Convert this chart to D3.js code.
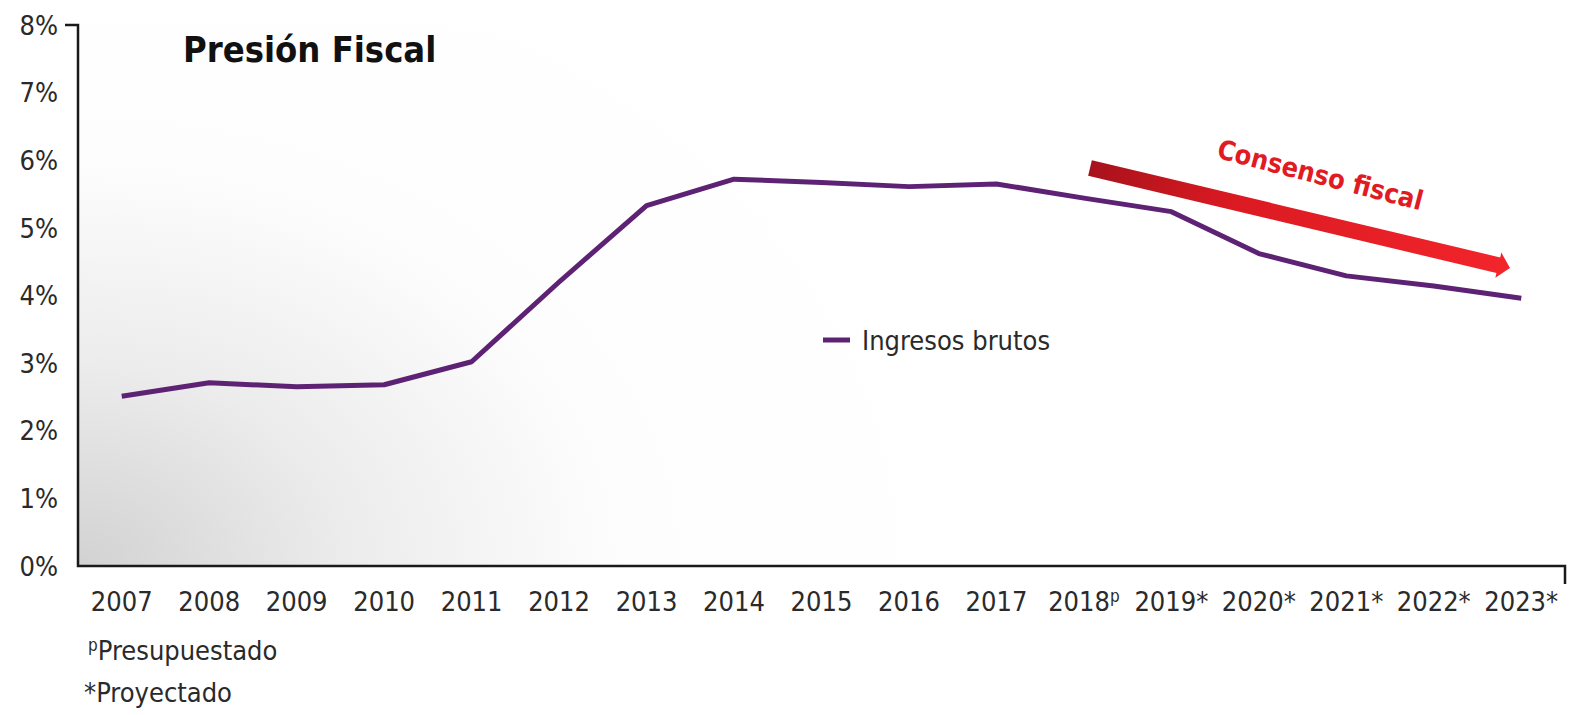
<!DOCTYPE html>
<html>
<head>
<meta charset="utf-8">
<script src="https://d3js.org/d3.v7.min.js"></script>
<style>
    body { margin: 0; background: #fff; }
    text { font-family: "Liberation Sans Narrow", "DejaVu Sans Condensed", "DejaVu Sans", sans-serif; font-stretch: condensed; }
    .tick-label { font-size: 27px; fill: #2a2a2a; }
</style>
</head>
<body>
<script>
// data
var years = ["2007", "2008", "2009", "2010", "2011", "2012", "2013", "2014", "2015",
    "2016", "2017", "2018", "2019", "2020", "2021", "2022", "2023"];
var yearMarks = ["", "", "", "", "", "", "", "", "", "", "", "p", "*", "*", "*", "*", "*"];
var ingresosBrutos = [2.51, 2.71, 2.65, 2.68, 3.02, 4.20, 5.33, 5.72, 5.67,
    5.61, 5.65, 5.44, 5.24, 4.62, 4.29, 4.14, 3.96];
var yTicks = [0, 1, 2, 3, 4, 5, 6, 7, 8];

var W = 1589, H = 715;
var plotLeft = 78, plotRight = 1565, plotTop = 25, plotBottom = 566;

var svg = d3.select("body").append("svg")
    .attr("width", W)
    .attr("height", H);

var x = d3.scaleBand().domain(years).range([plotLeft, plotRight]);
var y = d3.scaleLinear().domain([0, 8]).range([plotBottom, plotTop]);

var defs = svg.append("defs");
var bg = defs.append("radialGradient")
    .attr("id", "bg")
    .attr("gradientUnits", "userSpaceOnUse")
    .attr("cx", plotLeft).attr("cy", plotBottom)
    .attr("r", 900)
    .attr("gradientTransform", "translate(" + plotLeft + "," + plotBottom + ") scale(1,0.75) translate(" + (-plotLeft) + "," + (-plotBottom) + ")");
bg.append("stop").attr("offset", "0").attr("stop-color", "#d2d2d2");
bg.append("stop").attr("offset", "0.3").attr("stop-color", "#ececec");
bg.append("stop").attr("offset", "0.6").attr("stop-color", "#fdfdfd");
bg.append("stop").attr("offset", "1").attr("stop-color", "#ffffff");

var ag = defs.append("linearGradient")
    .attr("id", "arrowGrad")
    .attr("x1", "0").attr("x2", "1").attr("y1", "0").attr("y2", "0");
ag.append("stop").attr("offset", "0").attr("stop-color", "#a8121c");
ag.append("stop").attr("offset", "0.35").attr("stop-color", "#dc1a22");
ag.append("stop").attr("offset", "1").attr("stop-color", "#f2252b");

// background
svg.append("rect")
    .attr("x", plotLeft).attr("y", plotTop)
    .attr("width", plotRight - plotLeft).attr("height", plotBottom - plotTop)
    .attr("fill", "url(#bg)");

// axes
svg.append("path")
    .attr("d", "M" + (plotLeft - 13) + "," + y(8) + "H" + plotLeft + "V" + y(0) + "H" + plotRight + "V" + (y(0) + 18))
    .attr("fill", "none")
    .attr("stroke", "#1a1a1a")
    .attr("stroke-width", 2.5);

svg.selectAll(".ylab")
    .data(yTicks)
    .enter().append("text")
    .attr("class", "tick-label")
    .attr("x", 58)
    .attr("y", function(d) { return y(d); })
    .attr("dy", "0.36em")
    .attr("text-anchor", "end")
    .text(function(d) { return d + "%"; });

var xl = svg.selectAll(".xlab")
    .data(years)
    .enter().append("text")
    .attr("class", "tick-label")
    .attr("x", function(d) { return x(d) + x.bandwidth() / 2; })
    .attr("y", 611)
    .attr("text-anchor", "middle");
xl.append("tspan").text(function(d) { return d; });
xl.append("tspan")
    .attr("dy", function(d, i) { return yearMarks[i] == "p" ? -9 : 0; })
    .style("font-size", function(d, i) { return yearMarks[i] == "p" ? "17px" : "27px"; })
    .text(function(d, i) { return yearMarks[i]; });

// line
var line = d3.line()
    .x(function(d, i) { return x(years[i]) + x.bandwidth() / 2; })
    .y(function(d) { return y(d); });

svg.append("path")
    .datum(ingresosBrutos)
    .attr("d", line)
    .attr("fill", "none")
    .attr("stroke", "#5e2274")
    .attr("stroke-width", 5)
    .attr("stroke-linejoin", "round");

// legend
svg.append("line")
    .attr("x1", 823).attr("x2", 850)
    .attr("y1", 340).attr("y2", 340)
    .attr("stroke", "#5e2274")
    .attr("stroke-width", 5);
svg.append("text")
    .attr("class", "tick-label")
    .attr("x", 862).attr("y", 340)
    .attr("dy", "0.36em")
    .text("Ingresos brutos");

// title
svg.append("text")
    .attr("x", 183).attr("y", 62)
    .style("font-size", "36px")
    .style("font-weight", "bold")
    .attr("fill", "#111")
    .text("Presión Fiscal");

// consenso fiscal arrow
var ax0 = 1090, ay0 = 168, ax1 = 1510, ay1 = 268;
var ang = Math.atan2(ay1 - ay0, ax1 - ax0) * 180 / Math.PI;
var len = Math.hypot(ax1 - ax0, ay1 - ay0);
var arrow = svg.append("g")
    .attr("transform", "translate(" + ax0 + "," + ay0 + ") rotate(" + ang + ")");
arrow.append("path")
    .attr("d", "M0,-8 H" + (len - 12) + " V-13 L" + len + ",0 L" + (len - 12) + ",13 V8 H0 Z")
    .attr("fill", "url(#arrowGrad)");

svg.append("text")
    .attr("transform", "translate(1318,184) rotate(14.5)")
    .attr("text-anchor", "middle")
    .style("font-size", "27px")
    .style("font-weight", "bold")
    .attr("fill", "#e11b24")
    .text("Consenso fiscal");

// footnotes
var f1 = svg.append("text")
    .attr("class", "tick-label")
    .attr("x", 88).attr("y", 660);
f1.append("tspan").style("font-size", "17px").attr("dy", -9).text("p");
f1.append("tspan").attr("dy", 9).text("Presupuestado");
svg.append("text")
    .attr("class", "tick-label")
    .attr("x", 84).attr("y", 702)
    .text("*Proyectado");
</script>
</body>
</html>
